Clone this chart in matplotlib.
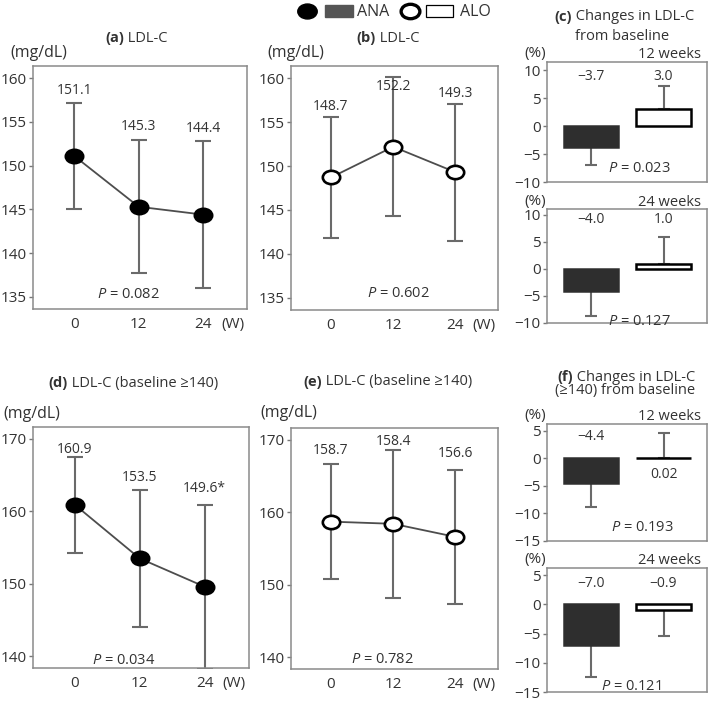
import matplotlib
matplotlib.use('Agg')
import matplotlib.pyplot as plt
import matplotlib.transforms as mtransforms
from matplotlib.path import Path
from matplotlib.patches import Rectangle

plt.rcParams['font.family'] = ['Open Sans', 'DejaVu Sans']
plt.rcParams['font.size'] = 10
plt.rcParams['text.color'] = '#333333'
plt.rcParams['xtick.color'] = '#777777'
plt.rcParams['ytick.color'] = '#777777'
plt.rcParams['xtick.labelcolor'] = '#333333'
plt.rcParams['ytick.labelcolor'] = '#333333'
plt.rcParams['mathtext.fontset'] = 'custom'
plt.rcParams['mathtext.rm'] = 'Open Sans'
plt.rcParams['mathtext.it'] = 'Open Sans:italic'
plt.rcParams['mathtext.bf'] = 'Open Sans:bold'

# --- data ---
weeks = [0, 12, 24]
week_labels = ['0', '12', '24']

ana_mean = [151.1, 145.3, 144.4]
ana_sd = [6.1, 7.6, 8.4]
alo_mean = [148.7, 152.2, 149.3]
alo_sd = [6.9, 7.9, 7.8]

ana140_mean = [160.9, 153.5, 149.6]
ana140_sd = [6.6, 9.4, 11.3]
ana140_marks = ['', '', '*']
alo140_mean = [158.7, 158.4, 156.6]
alo140_sd = [7.9, 10.2, 9.2]

groups = ['ANA', 'ALO']
chg_12w = [-3.7, 3.0]
chg_12w_sd = [3.3, 4.2]
chg_24w = [-4.0, 1.0]
chg_24w_sd = [4.7, 5.0]
chg140_12w = [-4.4, 0.02]
chg140_12w_sd = [4.5, 4.6]
chg140_24w = [-7.0, -0.9]
chg140_24w_sd = [5.5, 4.5]
chg140_12w_text = ['\u22124.4', '0.02']

p_values = {'a': '0.082', 'b': '0.602', 'c12': '0.023', 'c24': '0.127',
            'd': '0.034', 'e': '0.782', 'f12': '0.193', 'f24': '0.121'}

W, H = 709, 702
fig = plt.figure(figsize=(W / 100, H / 100), dpi=100)

SPINE = '#8a8a8a'
ERR = '#6a6a6a'
ANA_BAR = '#2e2e2e'
ANA_LEG = '#555555'
TICK_FS = 11
VAL_FS = 10
P_FS = 10.5
TITLE_FS = 10.5

ellipse = Path.unit_circle().transformed(mtransforms.Affine2D().scale(1.3, 1.0))


def box(l, t, r, b):
    return fig.add_axes([l / W, 1 - b / H, (r - l) / W, (b - t) / H])


def ftext(x, y, s, **kw):
    kw.setdefault('fontsize', TITLE_FS)
    fig.text(x / W, 1 - y / H, s, va='center', **kw)


def style(ax):
    for sp in ax.spines.values():
        sp.set_color(SPINE)
        sp.set_linewidth(1.1)
    ax.tick_params(axis='y', length=3, width=1, pad=1.5, labelsize=TICK_FS)


def line_panel(ax, means, sds, filled, ylim, yticks, label_y, pkey, ppos, marks=None):
    style(ax)
    ax.errorbar(weeks, means, yerr=sds, fmt='none', ecolor=ERR, elinewidth=1.5,
                capsize=5.5, capthick=1.5, zorder=2)
    ax.plot(weeks, means, color='#4d4d4d', lw=1.3, zorder=3)
    ax.plot(weeks, means, ls='none', marker=ellipse, ms=12.5,
            mfc='black' if filled else 'white', mec='black', mew=1.9, zorder=4)
    for i, (w, m) in enumerate(zip(weeks, means)):
        s = f'{m:.1f}' + (marks[i] if marks else '')
        ax.text(w, label_y[i], s, ha='center', va='center', fontsize=VAL_FS)
    ax.text(ppos[0], ppos[1], f'$P$ = {p_values[pkey]}', ha='center', va='center',
            fontsize=P_FS)
    ax.set_xlim(-7.7, 32.2)
    ax.set_ylim(*ylim)
    ax.set_yticks(yticks)
    ax.set_xticks(weeks + [29.5], labels=week_labels + ['(W)'])
    ax.tick_params(axis='x', length=0, pad=6, labelsize=TICK_FS)


def bar_panel(ax, vals, sds, ylim, yticks, label_y, pkey, ppos, texts=None):
    style(ax)
    x = [0, 1]
    lower = [s if v < 0 else 0 for v, s in zip(vals, sds)]
    upper = [s if v >= 0 else 0 for v, s in zip(vals, sds)]
    ax.errorbar(x, vals, yerr=[lower, upper], fmt='none', ecolor=ERR, elinewidth=1.5,
                capsize=4.3, capthick=1.5, zorder=2)
    ax.bar(x, vals, width=0.75, color=[ANA_BAR, 'white'], edgecolor=[ANA_BAR, 'black'],
           linewidth=1.8, zorder=3)
    for i, v in enumerate(vals):
        s = texts[i] if texts else f'{v:.1f}'.replace('-', '\u2212')
        ax.text(x[i], label_y[i], s, ha='center', va='center', fontsize=VAL_FS)
    ax.text(ppos[0], ppos[1], f'$P$ = {p_values[pkey]}', ha='center', va='center',
            fontsize=P_FS)
    ax.set_xlim(-0.607, 1.6)
    ax.set_ylim(*ylim)
    ax.set_yticks(yticks)
    ax.set_xticks([])


def bar_header(ax, label):
    ax.annotate(label, xy=(1, 1), xycoords='axes fraction', xytext=(-6, 7),
                textcoords='offset pixels', ha='right', va='center', fontsize=TITLE_FS)
    ax.annotate('(%)', xy=(0, 1), xycoords='axes fraction', xytext=(-12, 8),
                textcoords='offset pixels', ha='center', va='center', fontsize=11)


# (a)
ax_a = box(33, 66, 247, 309)
line_panel(ax_a, ana_mean, ana_sd, True, (133.6, 161.4), [135, 140, 145, 150, 155, 160],
           [158.6, 154.5, 154.3], 'a', (10.1, 135.3))
# (b)
ax_b = box(291, 66, 498, 310)
line_panel(ax_b, alo_mean, alo_sd, False, (133.6, 161.4), [135, 140, 145, 150, 155, 160],
           [156.8, 159.1, 158.3], 'b', (13, 135.5))
# (d)
ax_d = box(33, 427, 249, 668)
line_panel(ax_d, ana140_mean, ana140_sd, True, (138.4, 171.6), [140, 150, 160, 170],
           [168.5, 164.6, 163.1], 'd', (9, 139.5), marks=ana140_marks)
# (e)
ax_e = box(291, 428, 498, 669)
line_panel(ax_e, alo140_mean, alo140_sd, False, (138.4, 171.6), [140, 150, 160, 170],
           [168.5, 169.7, 168.1], 'e', (10, 139.7))

# (c)
ax_c1 = box(547, 62, 707, 182)
bar_panel(ax_c1, chg_12w, chg_12w_sd, (-10, 11.5), [-10, -5, 0, 5, 10], [8.9, 8.9],
          'c12', (0.67, -7.6))
bar_header(ax_c1, '12 weeks')
ax_c2 = box(547, 209, 707, 323)
bar_panel(ax_c2, chg_24w, chg_24w_sd, (-10, 11.1), [-10, -5, 0, 5, 10], [9.2, 9.2],
          'c24', (0.67, -9.7))
bar_header(ax_c2, '24 weeks')

# (f)
ax_f1 = box(547, 424, 707, 541)
bar_panel(ax_f1, chg140_12w, chg140_12w_sd, (-15, 6.2), [-15, -10, -5, 0, 5], [3.9, -3.0],
          'f12', (0.71, -12.6), texts=chg140_12w_text)
bar_header(ax_f1, '12 weeks')
ax_f2 = box(547, 568, 707, 692)
bar_panel(ax_f2, chg140_24w, chg140_24w_sd, (-15, 6.2), [-15, -10, -5, 0, 5], [3.6, 3.6],
          'f24', (0.56, -14.0))
bar_header(ax_f2, '24 weeks')

# panel titles
ftext(124, 38, '(a)', ha='right', fontweight='bold')
ftext(124, 38, ' LDL-C', ha='left')
ftext(376, 38, '(b)', ha='right', fontweight='bold')
ftext(376, 38, ' LDL-C', ha='left')
ftext(572, 17, '(c)', ha='right', fontweight='bold')
ftext(572, 17, ' Changes in LDL-C', ha='left')
ftext(622, 36, 'from baseline', ha='center')
ftext(68, 383, '(d)', ha='right', fontweight='bold')
ftext(68, 383, ' LDL-C (baseline \u2265140)', ha='left')
ftext(322, 382, '(e)', ha='right', fontweight='bold')
ftext(322, 382, ' LDL-C (baseline \u2265140)', ha='left')
ftext(573, 377, '(f)', ha='right', fontweight='bold')
ftext(573, 377, ' Changes in LDL-C', ha='left')
ftext(625, 391, '(\u2265140) from baseline', ha='center')

# unit labels
ftext(10, 53, '(mg/dL)', ha='left', fontsize=11.5)
ftext(267, 53, '(mg/dL)', ha='left', fontsize=11.5)
ftext(3, 414, '(mg/dL)', ha='left', fontsize=11.5)
ftext(260, 413, '(mg/dL)', ha='left', fontsize=11.5)

# legend drawn on a full-figure overlay in pixel units
lax = fig.add_axes([0, 0, 1, 1], zorder=-1)
lax.set_xlim(0, W)
lax.set_ylim(H, 0)
lax.axis('off')
lax.plot([306.5], [11], ls='none', marker=ellipse, ms=14, mfc='black', mec='black')
lax.add_patch(Rectangle((325, 5), 28, 12, facecolor=ANA_LEG, edgecolor=ANA_LEG))
lax.text(357, 11.5, groups[0], ha='left', va='center', fontsize=11.5)
lax.plot([409.5], [11], ls='none', marker=ellipse, ms=13.5, mfc='white', mec='black', mew=2.4)
lax.add_patch(Rectangle((426, 5), 27, 12, facecolor='white', edgecolor='black', lw=0.9))
lax.text(460, 11.5, groups[1], ha='left', va='center', fontsize=11.5)

fig.savefig('out.png', dpi=100)
